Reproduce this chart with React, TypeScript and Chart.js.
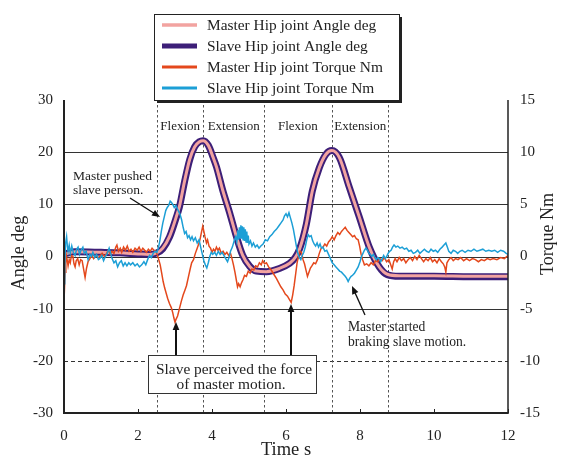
import React, { useEffect, useRef } from 'react';
import { Chart, registerables } from 'chart.js';

Chart.register(...registerables);

const FONT = '"Liberation Serif", "Times New Roman", serif';
const TEXT = '#222';

// ---- data ----
const xTickLabels = [0, 2, 4, 6, 8, 10, 12];
const angleTicks = [-30, -20, -10, 0, 10, 20, 30];
const torqueTicks = [-15, -10, -5, 0, 5, 10, 15];
const solidGrid = [20, 10, 0, -10];
const dashedGrid = [-20];
const phaseBoundaries = [2.51, 3.77, 5.4, 7.24, 8.77];
const phaseLabels = ['Flexion', 'Extension', 'Flexion', 'Extension'];

const masterAngle: [number, number][] = [
  [0, 0.4], [0.3, 0.9], [1.0, 0.8], [1.5, 0.7], [2.0, 0.5], [2.3, 0.4], [2.51, 0.7], [2.67, 1.6],
  [2.85, 3.8], [3.03, 7.5], [3.12, 9.6], [3.26, 14.5], [3.4, 18.7], [3.53, 21.0], [3.66, 22.0],
  [3.76, 22.2], [3.9, 21.3], [4.03, 19.0], [4.12, 17.2], [4.29, 12.7], [4.48, 8.3], [4.66, 3.8],
  [4.83, 0.2], [5.02, -1.9], [5.2, -2.8], [5.47, -2.9], [5.82, -2.3], [6.1, -1.3], [6.25, -0.2],
  [6.37, 1.5], [6.55, 6.2], [6.71, 12.5], [6.9, 17.0], [7.08, 19.6], [7.24, 20.3], [7.44, 19.0],
  [7.71, 13.3], [7.98, 7.6], [8.25, 1.8], [8.52, -2.0], [8.74, -3.4], [9.06, -3.7], [10.0, -3.7],
  [11.0, -3.8], [12.0, -3.8],
];

const slaveAngle: [number, number][] = [
  [0, 0.5], [0.3, 0.9], [1.0, 0.8], [1.5, 0.7], [2.0, 0.5], [2.3, 0.4], [2.51, 0.7], [2.67, 1.5],
  [2.85, 3.7], [3.03, 7.4], [3.12, 9.5], [3.26, 14.4], [3.4, 18.6], [3.53, 21.0], [3.66, 22.0],
  [3.76, 22.2], [3.9, 21.3], [4.03, 19.0], [4.12, 17.2], [4.29, 12.7], [4.48, 8.3], [4.66, 3.8],
  [4.83, 0.2], [5.02, -1.9], [5.2, -2.8], [5.47, -2.9], [5.82, -2.3], [6.1, -1.3], [6.25, -0.2],
  [6.37, 1.5], [6.55, 6.2], [6.71, 12.5], [6.9, 17.0], [7.08, 19.6], [7.24, 20.3], [7.44, 19.0],
  [7.71, 13.3], [7.98, 7.6], [8.25, 1.8], [8.52, -2.0], [8.74, -3.5], [9.06, -3.8], [10.0, -3.8],
  [11.0, -3.9], [12.0, -3.9],
];

const masterTorque: [number, number][] = [
  [0, -4.3], [0.03, -1.5], [0.05, 0.3], [0.08, -0.2], [0.11, -0.9], [0.14, -0.3], [0.17, -0.6], [0.2, 0.1],
  [0.24, 0.0], [0.27, -0.7], [0.3, -1.0], [0.33, -0.4], [0.37, -0.2], [0.41, -0.8], [0.45, -0.3], [0.49, -0.4],
  [0.53, -1.2], [0.57, -2.0], [0.61, -1.1], [0.65, -0.5], [0.7, -0.2], [0.75, 0.1], [0.8, -0.2], [0.86, 0.1],
  [0.92, -0.1], [0.97, 0.0], [1.03, 0.3], [1.09, 0.0], [1.15, 0.3], [1.2, 0.6], [1.25, 0.2], [1.3, 0.5],
  [1.35, 0.3], [1.4, 0.9], [1.43, 1.1], [1.47, 0.5], [1.52, 0.8], [1.56, 0.4], [1.61, 0.9], [1.66, 0.6],
  [1.71, 1.0], [1.76, 0.5], [1.81, 0.7], [1.86, 0.4], [1.92, 0.8], [1.98, 0.6], [2.03, 0.9], [2.08, 0.5],
  [2.13, 0.8], [2.18, 0.6], [2.23, 0.4], [2.28, 0.7], [2.33, 0.5], [2.38, 0.8], [2.43, 0.6], [2.48, 0.5],
  [2.52, 0.2], [2.56, -0.3], [2.6, -0.8], [2.64, -1.6], [2.68, -2.4], [2.72, -3.0], [2.76, -3.5], [2.8, -4.0],
  [2.85, -4.5], [2.9, -4.9], [2.94, -5.4], [2.97, -5.9], [3.0, -6.3], [3.03, -6.0], [3.07, -5.7], [3.12, -5.0],
  [3.17, -4.3], [3.22, -3.7], [3.27, -3.2], [3.31, -2.8], [3.36, -2.0], [3.41, -1.2], [3.45, -0.6], [3.5, -0.3],
  [3.55, 0.3], [3.6, 0.8], [3.64, 1.2], [3.68, 1.7], [3.72, 2.4], [3.75, 2.9], [3.78, 2.4], [3.81, 1.9],
  [3.85, 1.3], [3.88, 1.6], [3.92, 1.0], [3.96, 0.8], [4.0, 0.4], [4.04, 0.7], [4.08, 0.5], [4.12, 0.9],
  [4.16, 0.6], [4.2, 0.8], [4.25, 0.3], [4.3, 0.5], [4.35, 0.2], [4.4, 0.4], [4.45, 0.1], [4.5, 0.3],
  [4.54, -0.2], [4.58, -0.8], [4.62, -1.5], [4.66, -2.3], [4.69, -2.9], [4.72, -2.6], [4.76, -2.9], [4.8, -2.5],
  [4.84, -2.2], [4.88, -1.8], [4.93, -1.9], [4.98, -1.4], [5.03, -1.6], [5.08, -1.2], [5.13, -1.3], [5.18, -0.9],
  [5.23, -1.0], [5.28, -0.6], [5.33, -0.8], [5.37, -0.4], [5.42, -0.7], [5.47, -0.6], [5.53, -1.0], [5.6, -1.3],
  [5.67, -1.7], [5.74, -2.1], [5.8, -2.5], [5.86, -2.9], [5.92, -3.2], [5.98, -3.6], [6.04, -3.8], [6.09, -4.1],
  [6.14, -4.4], [6.18, -3.7], [6.22, -2.8], [6.26, -1.7], [6.3, -0.6], [6.34, 0.1], [6.38, 0.5], [6.42, 0.4],
  [6.46, -0.3], [6.5, -0.7], [6.54, -1.3], [6.58, -1.9], [6.62, -1.5], [6.66, -1.1], [6.7, -0.9], [6.75, -0.6],
  [6.8, -0.7], [6.85, -0.3], [6.9, 0.3], [6.95, 0.8], [7.0, 0.9], [7.05, 1.2], [7.1, 1.0], [7.15, 1.4],
  [7.2, 1.6], [7.25, 1.9], [7.3, 1.6], [7.35, 2.0], [7.4, 2.3], [7.45, 2.1], [7.5, 2.4], [7.55, 2.6],
  [7.6, 2.8], [7.65, 2.5], [7.7, 2.3], [7.75, 2.1], [7.8, 1.9], [7.85, 2.0], [7.9, 1.7], [7.95, 1.6],
  [7.99, 1.0], [8.03, 0.2], [8.07, -0.3], [8.12, -0.8], [8.18, -0.7], [8.24, -0.9], [8.3, -0.6], [8.36, -0.8],
  [8.42, -0.4], [8.48, -0.5], [8.54, -0.2], [8.6, -0.4], [8.66, -0.1], [8.72, -0.5], [8.78, -0.3], [8.83, -0.8],
  [8.87, -1.2], [8.91, -0.5], [8.95, -0.2], [9.0, -0.5], [9.06, -0.1], [9.12, -0.4], [9.18, -0.2], [9.24, -0.6],
  [9.3, -0.3], [9.36, -0.1], [9.42, -0.4], [9.48, 0.0], [9.54, -0.3], [9.6, 0.1], [9.66, -0.2], [9.72, -0.5],
  [9.78, -0.2], [9.84, -0.4], [9.9, -0.1], [9.96, -0.5], [10.02, -0.3], [10.08, -0.6], [10.14, -0.2], [10.2, -0.5],
  [10.25, -0.7], [10.29, -1.0], [10.32, -1.5], [10.35, -0.6], [10.4, -0.3], [10.46, -0.1], [10.52, -0.4], [10.58, -0.2],
  [10.65, -0.3], [10.72, -0.1], [10.8, -0.4], [10.88, -0.2], [10.96, -0.4], [11.04, -0.2], [11.12, -0.3], [11.2, -0.5],
  [11.28, -0.3], [11.36, -0.4], [11.44, -0.2], [11.52, -0.3], [11.6, -0.2], [11.7, -0.3], [11.8, -0.1], [11.9, -0.2],
  [12.0, 0.1],
];

const slaveTorque: [number, number][] = [
  [0, -2.6], [0.02, -1.0], [0.04, 1.2], [0.07, 1.9], [0.09, 1.0], [0.11, 0.5], [0.14, 1.1], [0.17, 0.3],
  [0.21, 1.0], [0.25, 0.4], [0.3, 0.1], [0.34, 0.7], [0.38, 0.9], [0.42, 0.2], [0.46, 0.6], [0.51, 0.9],
  [0.55, 0.3], [0.6, 0.5], [0.65, -0.3], [0.7, 0.2], [0.74, 0.0], [0.78, 0.4], [0.83, -0.1], [0.88, 0.2],
  [0.93, -0.3], [0.97, -0.2], [1.02, 0.1], [1.07, -0.4], [1.12, 0.0], [1.17, 0.3], [1.22, 0.8], [1.26, 0.3],
  [1.3, -0.2], [1.35, -0.6], [1.4, -0.4], [1.45, -1.0], [1.5, -0.6], [1.55, -0.4], [1.6, -0.9], [1.65, -0.6],
  [1.7, -0.9], [1.75, -0.6], [1.8, -0.8], [1.86, -0.6], [1.92, -0.9], [1.98, -0.7], [2.04, -1.0], [2.1, -0.8],
  [2.16, -0.5], [2.21, -0.8], [2.26, -0.3], [2.31, 0.1], [2.36, -0.1], [2.41, 0.3], [2.46, 0.5], [2.51, 0.4],
  [2.55, 0.8], [2.59, 1.5], [2.63, 2.4], [2.67, 3.2], [2.71, 3.8], [2.75, 4.4], [2.79, 4.7], [2.83, 4.9],
  [2.87, 5.3], [2.9, 5.2], [2.94, 5.0], [2.98, 4.7], [3.02, 4.9], [3.06, 4.6], [3.1, 4.3], [3.14, 4.0],
  [3.18, 3.5], [3.22, 2.8], [3.26, 2.2], [3.3, 2.4], [3.34, 1.8], [3.38, 2.0], [3.42, 1.6], [3.46, 1.9],
  [3.5, 1.5], [3.55, 1.8], [3.6, 1.3], [3.65, 1.6], [3.7, 0.8], [3.74, 0.2], [3.78, -0.4], [3.82, -0.8],
  [3.86, -1.1], [3.9, -0.6], [3.94, 0.0], [3.98, 0.4], [4.02, 0.2], [4.07, 0.4], [4.12, 0.1], [4.17, 0.5],
  [4.22, 0.2], [4.27, 0.4], [4.32, 0.1], [4.37, -0.2], [4.42, -0.5], [4.46, -0.1], [4.5, 0.5], [4.55, 0.9],
  [4.6, 1.5], [4.64, 1.9], [4.67, 1.4], [4.7, 2.5], [4.72, 1.6], [4.74, 2.8], [4.76, 1.8], [4.78, 3.0],
  [4.8, 1.7], [4.82, 2.9], [4.84, 1.6], [4.86, 2.8], [4.88, 1.5], [4.9, 2.6], [4.92, 1.4], [4.94, 2.4],
  [4.96, 1.3], [4.98, 2.0], [5.0, 1.2], [5.04, 1.5], [5.08, 1.0], [5.12, 1.3], [5.17, 0.9], [5.22, 1.1],
  [5.27, 0.8], [5.32, 1.0], [5.38, 1.2], [5.44, 1.6], [5.5, 1.5], [5.56, 1.9], [5.62, 2.1], [5.68, 2.4],
  [5.74, 2.6], [5.8, 2.9], [5.86, 3.2], [5.92, 3.5], [5.96, 3.9], [6.0, 4.1], [6.04, 3.8], [6.08, 4.2],
  [6.12, 3.7], [6.16, 3.2], [6.2, 2.6], [6.24, 1.8], [6.28, 1.0], [6.32, 0.3], [6.36, -0.1], [6.4, -0.3],
  [6.44, 0.1], [6.48, 0.4], [6.52, 0.9], [6.56, 1.6], [6.6, 2.1], [6.64, 1.9], [6.68, 2.0], [6.72, 1.5],
  [6.76, 1.2], [6.8, 1.0], [6.84, 1.3], [6.88, 0.9], [6.92, 1.2], [6.96, 0.8], [7.0, 0.9], [7.05, 0.5],
  [7.1, 0.6], [7.15, 0.2], [7.2, -0.2], [7.25, -0.6], [7.3, -0.8], [7.35, -1.0], [7.4, -1.2], [7.45, -1.4],
  [7.5, -1.5], [7.55, -1.7], [7.6, -1.9], [7.64, -2.1], [7.68, -2.4], [7.72, -2.1], [7.76, -1.9], [7.8, -1.8],
  [7.85, -1.6], [7.9, -1.3], [7.95, -1.0], [8.0, -0.5], [8.04, 0.0], [8.08, 0.3], [8.12, 0.6], [8.16, 0.8],
  [8.2, 0.6], [8.24, 0.3], [8.28, 0.2], [8.32, 0.0], [8.36, 0.2], [8.4, -0.1], [8.44, -0.3], [8.48, -0.1],
  [8.52, -0.2], [8.56, -0.5], [8.6, -0.2], [8.64, 0.1], [8.68, -0.2], [8.72, 0.0], [8.76, 0.3], [8.8, 0.5],
  [8.84, 0.6], [8.88, 0.9], [8.92, 1.1], [8.97, 0.9], [9.02, 1.0], [9.08, 0.8], [9.14, 0.9], [9.2, 0.7],
  [9.26, 0.8], [9.32, 0.5], [9.38, 0.6], [9.44, 0.3], [9.5, 0.4], [9.56, 0.6], [9.62, 0.3], [9.68, 0.5],
  [9.74, 0.7], [9.8, 0.5], [9.86, 0.4], [9.92, 0.7], [9.98, 0.5], [10.04, 0.6], [10.1, 0.4], [10.16, 0.7],
  [10.22, 0.9], [10.27, 1.1], [10.32, 1.3], [10.36, 0.9], [10.4, 0.5], [10.46, 0.3], [10.52, 0.6], [10.58, 0.5],
  [10.64, 0.3], [10.7, 0.5], [10.76, 0.6], [10.84, 0.4], [10.92, 0.6], [11.0, 0.5], [11.08, 0.7], [11.16, 0.5],
  [11.24, 0.6], [11.32, 0.7], [11.4, 0.5], [11.48, 0.6], [11.56, 0.5], [11.64, 0.6], [11.72, 0.4], [11.8, 0.6],
  [11.88, 0.5], [11.95, 0.3], [12.0, 0.2],
];

const seriesLabels = [
  'Master Hip joint Angle deg',
  'Slave Hip joint Angle deg',
  'Master Hip joint Torque Nm',
  'Slave Hip joint Torque Nm',
];
const seriesColors = ['#F2A3A0', '#3D1F78', '#E4481C', '#1C9FD6'];
const seriesWidths = [3, 7, 1.5, 1.5];
const legendWidths = [3.5, 5, 3, 3];

const toXY = (a: [number, number][]) => a.map(([x, y]) => ({ x, y }));

function drawArrow(ctx: CanvasRenderingContext2D, x1: number, y1: number, x2: number, y2: number, w: number, head: number) {
  const ang = Math.atan2(y2 - y1, x2 - x1);
  const c = Math.cos(ang), s = Math.sin(ang);
  ctx.lineWidth = w;
  ctx.beginPath();
  ctx.moveTo(x1, y1);
  ctx.lineTo(x2 - c * head * 0.7, y2 - s * head * 0.7);
  ctx.stroke();
  const hw = head * 0.42;
  ctx.beginPath();
  ctx.moveTo(x2, y2);
  ctx.lineTo(x2 - head * c + hw * s, y2 - head * s - hw * c);
  ctx.lineTo(x2 - head * c - hw * s, y2 - head * s + hw * c);
  ctx.closePath();
  ctx.fill();
}

const overlay = {
  id: 'overlay',
  beforeDatasetsDraw(chart: any) {
    const { ctx, chartArea: a, scales } = chart;
    const xs = scales.x, ys = scales.y;
    ctx.save();
    ctx.strokeStyle = '#333';
    ctx.lineWidth = 1;
    solidGrid.forEach((v) => {
      const y = Math.round(ys.getPixelForValue(v)) + 0.5;
      ctx.beginPath(); ctx.moveTo(a.left, y); ctx.lineTo(a.right, y); ctx.stroke();
    });
    ctx.setLineDash([4, 3]);
    dashedGrid.forEach((v) => {
      const y = Math.round(ys.getPixelForValue(v)) + 0.5;
      ctx.beginPath(); ctx.moveTo(a.left, y); ctx.lineTo(a.right, y); ctx.stroke();
    });
    ctx.strokeStyle = '#555';
    ctx.setLineDash([2.5, 2.5]);
    phaseBoundaries.forEach((t) => {
      const x = Math.round(xs.getPixelForValue(t)) + 0.5;
      ctx.beginPath(); ctx.moveTo(x, a.top); ctx.lineTo(x, a.bottom); ctx.stroke();
    });
    ctx.setLineDash([]);
    // phase labels
    ctx.fillStyle = TEXT;
    ctx.font = `13px ${FONT}`;
    ctx.textAlign = 'center';
    ctx.textBaseline = 'middle';
    phaseLabels.forEach((lab, i) => {
      const x = (xs.getPixelForValue(phaseBoundaries[i]) + xs.getPixelForValue(phaseBoundaries[i + 1])) / 2;
      ctx.fillText(lab, x, a.top + 27);
    });
    ctx.restore();
  },
  afterDraw(chart: any) {
    const { ctx, chartArea: a, scales } = chart;
    const xs = scales.x;
    ctx.save();
    // axes
    ctx.strokeStyle = '#222';
    ctx.lineWidth = 2;
    ctx.beginPath(); ctx.moveTo(a.left, a.top); ctx.lineTo(a.left, a.bottom); ctx.lineTo(a.right, a.bottom); ctx.stroke();
    ctx.lineWidth = 1.5;
    ctx.beginPath(); ctx.moveTo(a.right, a.top); ctx.lineTo(a.right, a.bottom + 1); ctx.stroke();
    ctx.lineWidth = 1;
    xTickLabels.forEach((v) => {
      const x = Math.round(xs.getPixelForValue(v)) + 0.5;
      ctx.beginPath(); ctx.moveTo(x, a.bottom); ctx.lineTo(x, a.bottom - 4); ctx.stroke();
    });

    // axis titles
    ctx.fillStyle = TEXT;
    ctx.font = `18.5px ${FONT}`;
    ctx.textAlign = 'center';
    ctx.textBaseline = 'middle';
    ctx.fillText('Time s', 286, 450);
    ctx.font = `18px ${FONT}`;
    ctx.save(); ctx.translate(19, 253); ctx.rotate(-Math.PI / 2); ctx.fillText('Angle deg', 0, 0); ctx.restore();
    ctx.save(); ctx.translate(548, 234); ctx.rotate(-Math.PI / 2); ctx.fillText('Torque Nm', 0, 0); ctx.restore();

    // annotations
    ctx.font = `13.5px ${FONT}`;
    ctx.textAlign = 'left';
    ctx.fillText('Master pushed', 73, 176);
    ctx.fillText('slave person.', 73, 190);
    ctx.fillStyle = '#111';
    ctx.strokeStyle = '#111';
    drawArrow(ctx, 130, 198, 160, 217, 1.3, 8);

    ctx.fillStyle = TEXT;
    ctx.font = `13.6px ${FONT}`;
    ctx.fillText('Master started', 348, 327);
    ctx.fillText('braking slave motion.', 348, 342);
    ctx.fillStyle = '#111';
    drawArrow(ctx, 365, 315, 352, 286, 1.3, 8);

    // arrows from box
    drawArrow(ctx, 176, 356, 176, 322, 2, 8);
    drawArrow(ctx, 291, 356, 291, 304, 2, 8);
    // box
    ctx.fillStyle = '#fff';
    ctx.fillRect(148.5, 355.5, 168, 38);
    ctx.strokeStyle = '#333';
    ctx.lineWidth = 1;
    ctx.strokeRect(148.5, 355.5, 168, 38);
    ctx.fillStyle = TEXT;
    ctx.font = `15.4px ${FONT}`;
    ctx.textAlign = 'center';
    ctx.fillText('Slave perceived the force', 234, 370);
    ctx.fillText('of master motion.', 231, 385);

    // legend
    const lx = 154, ly = 14, lw = 245, lh = 86;
    ctx.fillStyle = '#222';
    ctx.fillRect(lx + 3, ly + 3, lw, lh);
    ctx.fillStyle = '#fff';
    ctx.fillRect(lx, ly, lw, lh);
    ctx.strokeStyle = '#222';
    ctx.lineWidth = 1;
    ctx.strokeRect(lx + 0.5, ly + 0.5, lw, lh);
    const rows = [25, 46, 67, 88];
    ctx.font = `15.4px ${FONT}`;
    ctx.textAlign = 'left';
    seriesLabels.forEach((lab, i) => {
      ctx.strokeStyle = seriesColors[i];
      ctx.lineWidth = legendWidths[i];
      ctx.beginPath(); ctx.moveTo(162, rows[i]); ctx.lineTo(197, rows[i]); ctx.stroke();
      ctx.fillStyle = TEXT;
      ctx.fillText(lab, 207, rows[i] + 0.5);
    });
    ctx.restore();
  },
};

export default function App() {
  const ref = useRef<HTMLCanvasElement>(null);
  useEffect(() => {
    const tickFont = { family: FONT, size: 15 };
    const chart = new Chart(ref.current!, {
      type: 'line',
      data: {
        datasets: [
          { label: seriesLabels[0], data: toXY(masterAngle), borderColor: seriesColors[0], borderWidth: seriesWidths[0], pointRadius: 0, cubicInterpolationMode: 'monotone', yAxisID: 'y', order: 2 },
          { label: seriesLabels[1], data: toXY(slaveAngle), borderColor: seriesColors[1], borderWidth: seriesWidths[1], pointRadius: 0, cubicInterpolationMode: 'monotone', yAxisID: 'y', order: 3 },
          { label: seriesLabels[2], data: toXY(masterTorque), borderColor: seriesColors[2], borderWidth: seriesWidths[2], pointRadius: 0, tension: 0, yAxisID: 'y1', order: 1 },
          { label: seriesLabels[3], data: toXY(slaveTorque), borderColor: seriesColors[3], borderWidth: seriesWidths[3], pointRadius: 0, tension: 0, yAxisID: 'y1', order: 0 },
        ] as any,
      },
      options: {
        responsive: false,
        animation: false,
        layout: { padding: { top: 100, left: 0, right: 0, bottom: 0 } },
        plugins: { legend: { display: false }, tooltip: { enabled: false } },
        scales: {
          x: {
            type: 'linear', min: 0, max: 12,
            afterBuildTicks: (s: any) => { s.ticks = xTickLabels.map((v) => ({ value: v })); },
            ticks: { font: tickFont, color: TEXT, padding: 14, maxRotation: 0 },
            grid: { display: false, drawTicks: false }, border: { display: false },
            afterFit: (s: any) => { s.height = 46; },
          },
          y: {
            position: 'left', min: -30, max: 30,
            afterBuildTicks: (s: any) => { s.ticks = angleTicks.map((v) => ({ value: v })); },
            ticks: { font: tickFont, color: TEXT, padding: 11 },
            grid: { display: false, drawTicks: false }, border: { display: false },
            afterFit: (s: any) => { s.width = 64; },
          },
          y1: {
            position: 'right', min: -15, max: 15,
            afterBuildTicks: (s: any) => { s.ticks = torqueTicks.map((v) => ({ value: v })); },
            ticks: { font: tickFont, color: TEXT, padding: 12 },
            grid: { display: false, drawTicks: false }, border: { display: false },
            afterFit: (s: any) => { s.width = 56; },
          },
        },
      } as any,
      plugins: [overlay],
    });
    return () => chart.destroy();
  }, []);
  return (
    <div style={{ position: 'absolute', left: 0, top: 0, width: 564, height: 459, background: '#fff' }}>
      <canvas ref={ref} width={564} height={459} style={{ display: 'block' }} />
    </div>
  );
}
